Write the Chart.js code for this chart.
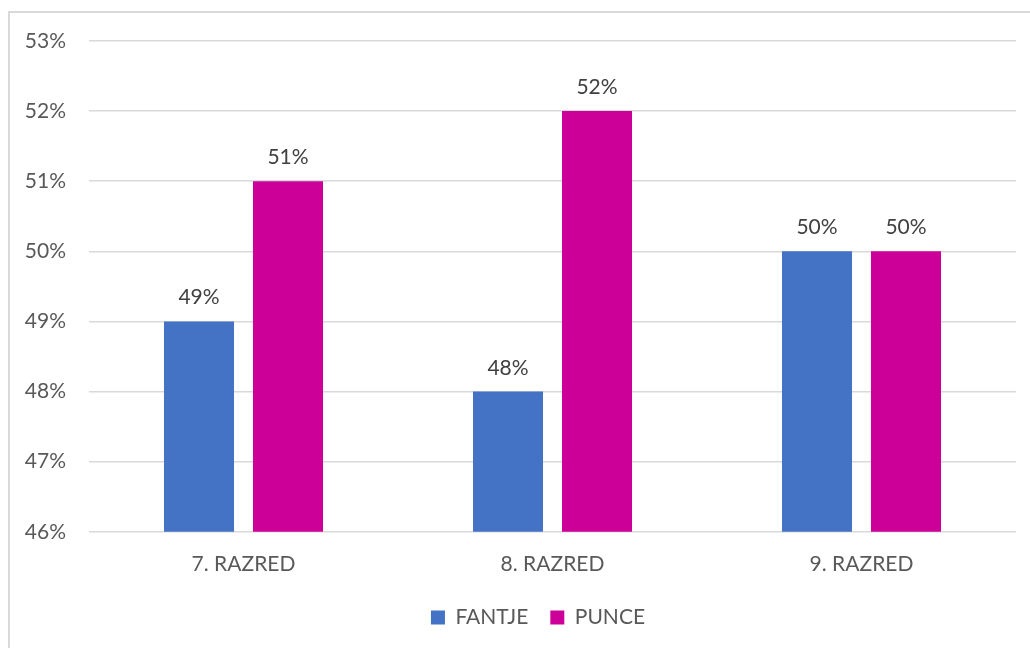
<!DOCTYPE html>
<html>
<head>
<meta charset="utf-8">
<script src="https://cdn.jsdelivr.net/npm/chart.js@4"></script>
<style>
  html, body { margin: 0; padding: 0; background: #fff; }
  #wrap { width: 1030px; height: 648px; }
</style>
</head>
<body>
<div id="wrap"><canvas id="chart" width="1030" height="648"></canvas></div>
<script>
// data
const categories = ['7. RAZRED', '8. RAZRED', '9. RAZRED'];
const fantje = [49, 48, 50];
const punce = [51, 52, 50];
const yMin = 46;
const yMax = 53;

const FONT = 'Lato, "Open Sans", sans-serif';

// frame round the whole chart + value labels above bars
const decorPlugin = {
    id: 'decor',
    afterLayout(chart) {
        // legend sits a bit right of centre in the original
        chart.legend.left += 26;
        chart.legend.right += 26;
    },
    beforeDraw(chart) {
        const ctx = chart.ctx;
        ctx.save();
        ctx.strokeStyle = '#d9d9d9';
        ctx.lineWidth = 2;
        ctx.strokeRect(9, 12, 1040, 660);
        ctx.restore();
    },
    afterDatasetsDraw(chart) {
        const ctx = chart.ctx;
        ctx.save();
        ctx.fillStyle = '#404040';
        ctx.font = '21px ' + FONT;
        ctx.textAlign = 'center';
        ctx.textBaseline = 'alphabetic';
        chart.data.datasets.forEach((ds, i) => {
            chart.getDatasetMeta(i).data.forEach((bar, j) => {
                ctx.fillText(ds.data[j] + '%', bar.x, bar.y - 17);
            });
        });
        ctx.restore();
    }
};

new Chart(document.getElementById('chart'), {
    type: 'bar',
    data: {
        labels: categories,
        datasets: [
            { label: 'FANTJE', data: fantje, backgroundColor: '#4472C4' },
            { label: 'PUNCE', data: punce, backgroundColor: '#CC0099' }
        ]
    },
    options: {
        responsive: false,
        animation: false,
        layout: { padding: { left: 8, right: 14, top: 41, bottom: 10 } },
        datasets: {
            bar: { categoryPercentage: 0.576, barPercentage: 0.787 }
        },
        scales: {
            x: {
                grid: { display: false },
                border: { display: false },
                afterFit(scale) { scale.height -= 4; },
                ticks: { color: '#595959', font: { family: FONT, size: 21 }, padding: 12 }
            },
            y: {
                min: yMin,
                max: yMax,
                afterFit(scale) { scale.width = 81; },
                grid: { color: '#d9d9d9', lineWidth: 1.5, drawTicks: false },
                border: { display: false },
                ticks: {
                    stepSize: 1,
                    color: '#595959',
                    font: { family: FONT, size: 21 },
                    padding: 23,
                    callback: v => v + '%'
                }
            }
        },
        plugins: {
            legend: {
                position: 'bottom',
                labels: {
                    color: '#595959',
                    font: { family: FONT, size: 21 },
                    boxWidth: 14,
                    boxHeight: 14,
                    padding: 22
                }
            },
            tooltip: { enabled: false }
        }
    },
    plugins: [decorPlugin]
});
</script>
</body>
</html>
